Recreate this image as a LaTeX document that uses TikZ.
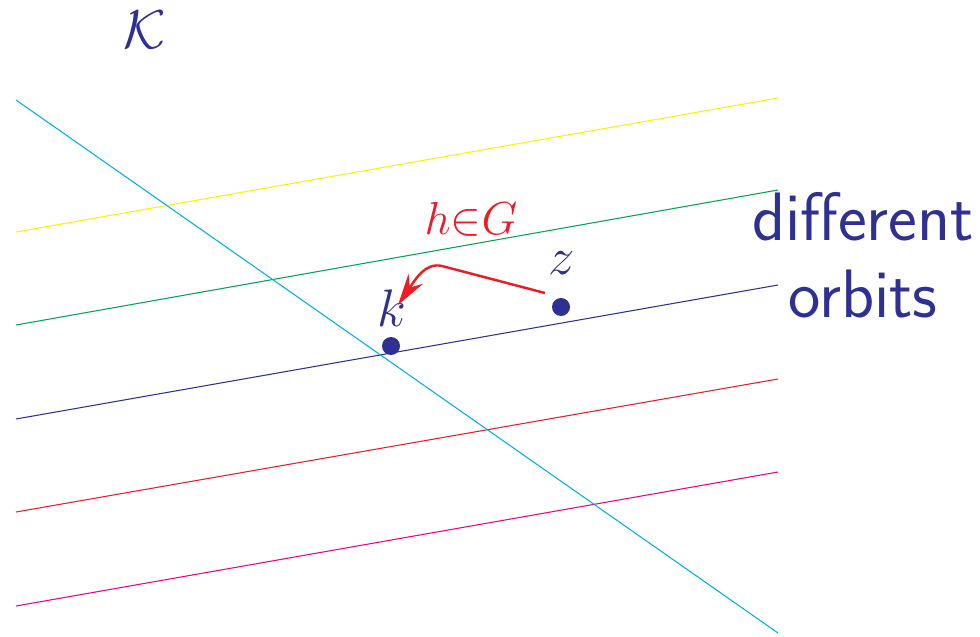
\documentclass[tikz,border=0pt]{standalone}
\usepackage{amsmath,amssymb}
\usepackage{graphicx}
\usetikzlibrary{arrows.meta}
\definecolor{dblue}{RGB}{46,49,146}
\definecolor{cred}{RGB}{237,28,36}
\definecolor{ccyan}{RGB}{0,174,239}
\definecolor{cyellow}{RGB}{255,242,0}
\definecolor{cgreen}{RGB}{0,166,81}
\definecolor{cmag}{RGB}{236,0,140}
\newcommand{\myscaledmath}[2]{\scalebox{#1}{\fontsize{20}{24}\selectfont$#2$}}
\begin{document}
\begin{tikzpicture}[x=0.02cm,y=-0.02cm,
  orbit/.style={line width=0.6pt},
  dot/.style={circle,fill=dblue,inner sep=0pt,minimum size=18*0.02cm},
  lbl/.style={text=dblue,inner sep=0pt},
  side/.style={text=dblue,inner sep=0pt,font=\sffamily\fontsize{39}{46}\selectfont}]
\useasboundingbox (0,0) rectangle (980,636);
% orbits
\coordinate (y1) at (16,232); \coordinate (y2) at (778,98);
\coordinate (g1) at (16,325); \coordinate (g2) at (778,190);
\coordinate (b1) at (16,419); \coordinate (b2) at (778,285);
\coordinate (r1) at (16,512); \coordinate (r2) at (778,379);
\coordinate (m1) at (16,606); \coordinate (m2) at (778,472);
\coordinate (c1) at (16,100); \coordinate (c2) at (778,633);
\draw[orbit,cyellow] (y1) -- (y2);
\draw[orbit,cgreen] (g1) -- (g2);
\draw[orbit,dblue] (b1) -- (b2);
\draw[orbit,cred] (r1) -- (r2);
\draw[orbit,cmag] (m1) -- (m2);
\draw[orbit,ccyan] (c1) -- (c2);
% points
\node[dot] (k) at (391,346) {};
\node[dot] (z) at (561,307) {};
\node[lbl] (kl) at (392,308) {\myscaledmath{1.45}{k}};
\node[lbl] (zl) at (562,263) {\myscaledmath{1.45}{z}};
\node[lbl] (K) at (145,30) {\myscaledmath{1.5}{\mathcal{K}}};
\node[lbl,text=cred] (h) at (471,219) {\myscaledmath{1.27}{h{\in}G}};
\node[side] (d) at (863,217) {different};
\node[side] (o) at (863,294) {orbits};
% arrow
\coordinate (s) at (545,293);
\coordinate (t) at (398,305);
\draw[cred,line width=1.4pt,-{Stealth[length=18pt,width=10pt,inset=6pt]}]
  (s) -- (442,266) .. controls (425,262) and (415,280) .. (t);
\end{tikzpicture}
\end{document}
